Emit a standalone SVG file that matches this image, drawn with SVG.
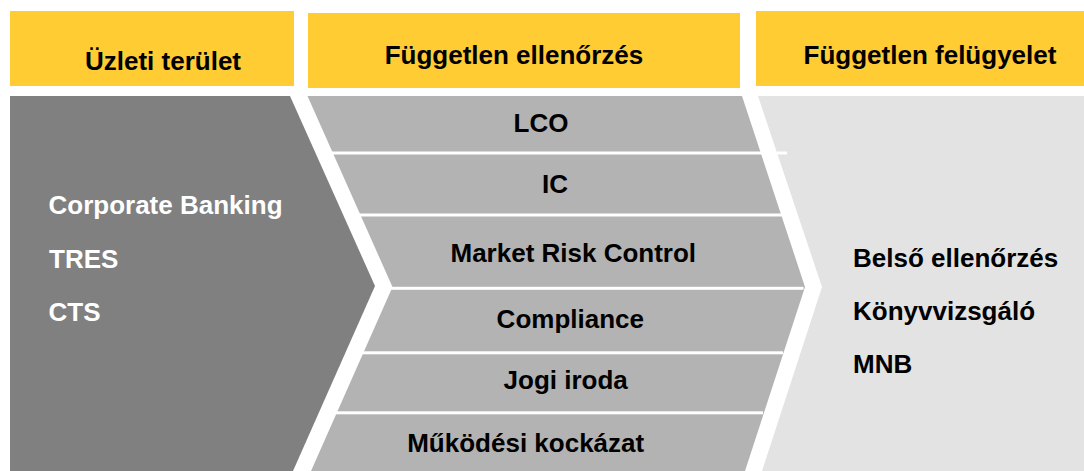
<svg xmlns="http://www.w3.org/2000/svg" width="1084" height="471" viewBox="0 0 1084 471">
  <style>
    .hdr { fill: #FFCC33; }
    .t { font-family: "Liberation Sans", Arial, sans-serif; font-weight: bold; font-size: 26px; fill: #000000; }
    .w { fill: #FFFFFF; }
    .mid { text-anchor: middle; }
    .sep { fill: #FFFFFF; }
  </style>
  <rect width="1084" height="471" fill="#FFFFFF"/>

  <g id="header-uzleti">
    <rect class="hdr" x="10" y="11" width="284" height="75"/>
    <text class="t mid" x="163" y="70">Üzleti terület</text>
  </g>
  <g id="header-fuggetlen-ellenorzes">
    <rect class="hdr" x="308" y="13" width="432" height="75"/>
    <text class="t mid" x="514" y="64">Független ellenőrzés</text>
  </g>
  <g id="header-fuggetlen-felugyelet">
    <rect class="hdr" x="756" y="11" width="328" height="75"/>
    <text class="t mid" x="930" y="64">Független felügyelet</text>
  </g>

  <g id="panel-uzleti">
    <polygon points="10,96 290,96 375,286 293,471 10,471" fill="#808080"/>
    <text class="t w" x="48.5" y="214">Corporate Banking</text>
    <text class="t w" x="49" y="267.5">TRES</text>
    <text class="t w" x="48.5" y="321">CTS</text>
  </g>

  <g id="panel-ellenorzes">
    <polygon points="307.5,96 742,96 805,287 745,471 311,471 392.5,287" fill="#B3B3B3"/>
  </g>

  <g id="separators">
    <rect class="sep" x="318" y="151.5" width="469" height="3"/>
    <rect class="sep" x="350" y="213.5" width="432" height="3"/>
    <rect class="sep" x="385" y="286.8" width="418.5" height="3"/>
    <rect class="sep" x="355" y="351.3" width="428" height="3"/>
    <rect class="sep" x="326" y="411.3" width="437" height="3"/>
  </g>

  <g id="node-lco"><text class="t mid" x="541" y="132.3">LCO</text></g>
  <g id="node-ic"><text class="t mid" x="555" y="192.7">IC</text></g>
  <g id="node-mrc"><text class="t mid" x="573.3" y="261.7">Market Risk Control</text></g>
  <g id="node-compliance"><text class="t mid" x="570.3" y="328.3">Compliance</text></g>
  <g id="node-jogi"><text class="t mid" x="565.7" y="389.3">Jogi iroda</text></g>
  <g id="node-mukodesi"><text class="t mid" x="525.7" y="451.7">Működési kockázat</text></g>

  <g id="panel-felugyelet">
    <polygon points="758,96 1084,96 1084,471 762,471 822,287" fill="#E3E3E3"/>
    <rect class="sep" x="777" y="151.5" width="10" height="3"/>
    <text class="t" x="853" y="266.7">Belső ellenőrzés</text>
    <text class="t" x="853" y="320">Könyvvizsgáló</text>
    <text class="t" x="853" y="373">MNB</text>
  </g>
</svg>
